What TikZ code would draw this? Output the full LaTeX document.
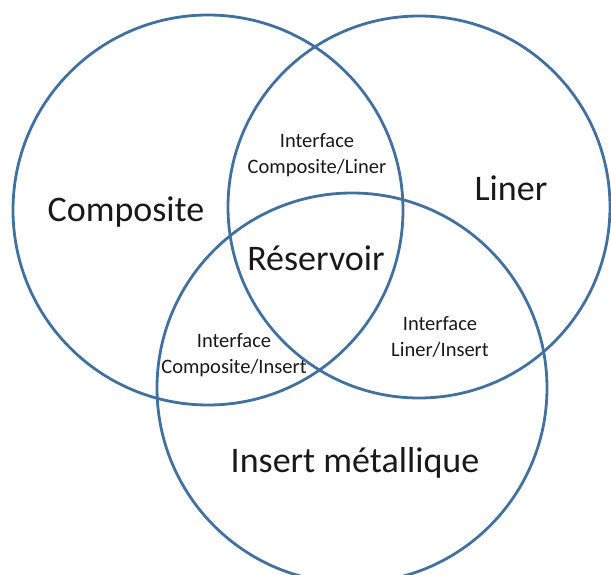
\documentclass[tikz,border=0pt]{standalone}
\usepackage{fontspec}
\setmainfont{Carlito}
\usepackage{tikz}
\usetikzlibrary{positioning}

\definecolor{setblue}{RGB}{65,113,156}

\begin{document}
\begin{tikzpicture}[x=1pt,y=-1pt]
	\tikzstyle{S} = [draw=setblue,line width=2.8pt,circle,inner sep=0pt]
	\tikzstyle{big} = [font=\fontsize{36}{40}\selectfont,text=black!90]
	\tikzstyle{small} = [font=\fontsize{20.5}{25.5}\selectfont,text=black!90,align=center]
	\useasboundingbox (0,0) rectangle (611,575);
	\node[S,minimum size=390pt](comp) at (208,210) {};
	\node[S,minimum size=382pt](liner) at (419,207) {};
	\node[S,minimum size=390pt](ins) at (352,388) {};
	\node[big](Lcomp) at (126,212) {Composite};
	\node[big](Lliner) at (511,188) {Liner};
	\node[big](Lres) at (316,258) {Réservoir};
	\node[big](Lins) at (355,463) {Insert métallique};
	\node[small](CL) at (317,155) {Interface\\Composite/Liner};
	\node[small](CI) at (234,355) {Interface\\Composite/Insert};
	\node[small](LI) at (440,337) {Interface\\Liner/Insert};
\end{tikzpicture}
\end{document}
